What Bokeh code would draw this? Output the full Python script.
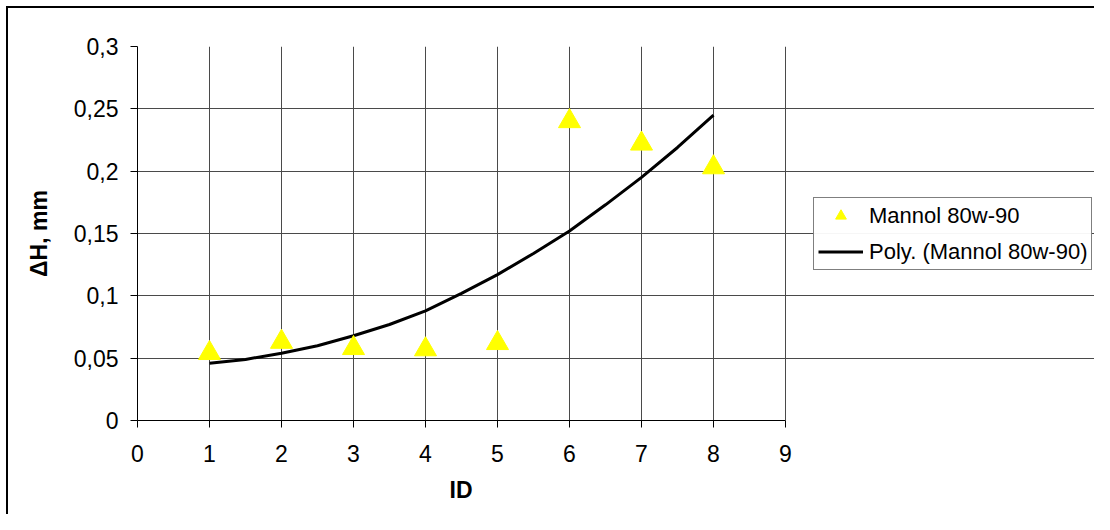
from bokeh.plotting import figure
from bokeh.models import Range1d, FixedTicker, Legend, LegendItem, Title
from bokeh.embed import file_html
from bokeh.resources import INLINE

# ---- data ----
ids = [1, 2, 3, 4, 5, 6, 7, 8]
dh = [0.054, 0.063, 0.058, 0.057, 0.062, 0.240, 0.222, 0.203]

poly_x = [1, 1.5, 2, 2.5, 3, 3.5, 4, 4.5, 5, 5.5, 6, 6.5, 7, 7.5, 8]
poly_y = [0.046, 0.049, 0.054, 0.060, 0.068, 0.077, 0.088, 0.102, 0.117,
          0.134, 0.152, 0.173, 0.195, 0.219, 0.245]

x_ticks = [0, 1, 2, 3, 4, 5, 6, 7, 8, 9]
y_ticks = [0, 0.05, 0.1, 0.15, 0.2, 0.25, 0.3]
y_tick_labels = ["0", "0,05", "0,1", "0,15", "0,2", "0,25", "0,3"]

x_title = "ID"
y_title = "ΔH, mm"
series_name = "Mannol 80w-90"
trend_name = "Poly. (Mannol 80w-90)"

FONT = "Liberation Sans"

# layout (pixels)
W, H = 1094, 514
LEFT, TOP, BOTTOM = 137, 46, 94
PLOT_W = 648                      # width of the 0..9 plot area
FRAME_W = W - LEFT                # frame also holds the legend area
x0, x9 = x_ticks[0], x_ticks[-1]
x_end = x0 + (x9 - x0) * FRAME_W / PLOT_W

p = figure(width=W, height=H, output_backend="svg", toolbar_location=None,
           x_range=Range1d(x0, x_end), y_range=Range1d(y_ticks[0], y_ticks[-1]),
           min_border_left=LEFT, min_border_right=0,
           min_border_top=TOP, min_border_bottom=BOTTOM)
p.border_fill_color = None
p.styles = {
    "background": "linear-gradient(#000,#000) 6px 6px / 100% 2px no-repeat, "
                  "linear-gradient(#000,#000) 6px 6px / 2px 100% no-repeat #fff"
}
p.background_fill_color = "white"
p.outline_line_color = None

# grid
p.xgrid.ticker = FixedTicker(ticks=x_ticks)
p.ygrid.ticker = FixedTicker(ticks=y_ticks)
p.ygrid.bounds = (x0, x9)
for g in (p.xgrid, p.ygrid):
    g.grid_line_color = "#4a4a4a"
    g.grid_line_width = 1

# axes
p.xaxis.ticker = FixedTicker(ticks=x_ticks)
p.xaxis.bounds = (x0, x9)
p.yaxis.ticker = FixedTicker(ticks=y_ticks)
p.yaxis.major_label_overrides = dict(zip(y_ticks, y_tick_labels))
p.yaxis.axis_label = y_title
for ax in (p.xaxis, p.yaxis):
    ax.axis_line_color = "black"
    ax.major_tick_line_color = "black"
    ax.major_tick_in = 0
    ax.major_tick_out = 7
    ax.minor_tick_line_color = None
    ax.major_label_text_font = FONT
    ax.major_label_text_font_size = "23px"
    ax.major_label_text_color = "black"
    ax.axis_label_text_font = FONT
    ax.axis_label_text_font_size = "23px"
    ax.axis_label_text_font_style = "bold"
    ax.axis_label_text_color = "black"
p.xaxis.major_label_standoff = 17
p.yaxis.major_label_standoff = 12
p.yaxis.axis_label_standoff = 19

# x-axis title, centred under the 0..9 plot area
p.add_layout(Title(text=x_title, align="left", offset=PLOT_W / 2 - 12,
                   text_font=FONT, text_font_size="23px",
                   text_font_style="bold", text_color="black",
                   standoff=21), "below")

# trend line and points
line_r = p.line(poly_x, poly_y, line_color="black", line_width=3)
pts_r = p.scatter(ids, dh, marker="triangle", size=22,
                  fill_color="#FFFF00", line_color="#FFFF00")

legend = Legend(items=[LegendItem(label=series_name, renderers=[pts_r]),
                       LegendItem(label=trend_name, renderers=[line_r])],
                location=(676, 150))
legend.border_line_color = "black"
legend.border_line_width = 1
legend.background_fill_color = "white"
legend.label_text_font = FONT
legend.label_text_font_size = "22px"
legend.label_text_color = "black"
legend.padding = 4
legend.spacing = 9
legend.margin = 0
legend.label_height = 27
legend.glyph_height = 27
legend.glyph_width = 45
legend.label_standoff = 6
p.add_layout(legend)

open("out.html", "w").write(file_html(p, INLINE))
